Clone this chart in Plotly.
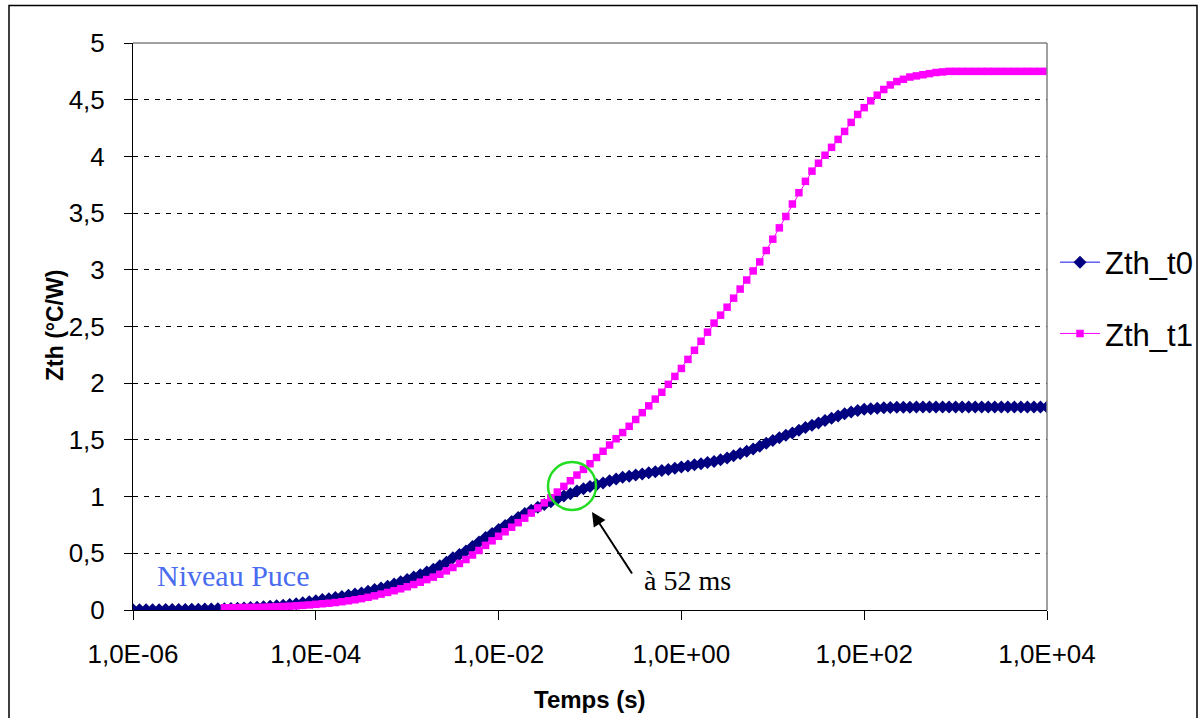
import numpy as np
import plotly.graph_objects as go

# ---- data -------------------------------------------------------------
# time grid: 14 samples per decade from 1e-6 s to 1e4 s (sampling of the simulation)
time_t0 = np.logspace(-6, 4, 141)
time_t1 = time_t0[14:]          # Zth_t1 starts at 1e-5 s

zth_t0 = [
    0.002, 0.002, 0.003, 0.003, 0.003, 0.004, 0.004, 0.005, 0.005, 0.006,
    0.007, 0.008, 0.009, 0.010, 0.011, 0.013, 0.015, 0.018, 0.021, 0.024,
    0.028, 0.032, 0.037, 0.042, 0.048, 0.055, 0.063, 0.072, 0.082, 0.092,
    0.100, 0.110, 0.120, 0.130, 0.140, 0.150, 0.165, 0.180, 0.195, 0.210,
    0.230, 0.250, 0.270, 0.290, 0.310, 0.335, 0.360, 0.390, 0.420, 0.460,
    0.490, 0.520, 0.560, 0.600, 0.640, 0.675, 0.710, 0.745, 0.780, 0.815,
    0.850, 0.880, 0.905, 0.930, 0.955, 0.980, 1.005, 1.025, 1.050, 1.070,
    1.090, 1.105, 1.120, 1.140, 1.155, 1.170, 1.180, 1.190, 1.200, 1.210,
    1.220, 1.230, 1.240, 1.250, 1.260, 1.270, 1.280, 1.290, 1.300, 1.310,
    1.325, 1.340, 1.360, 1.380, 1.400, 1.420, 1.445, 1.470, 1.495, 1.520,
    1.540, 1.560, 1.585, 1.610, 1.630, 1.650, 1.670, 1.690, 1.710, 1.730,
    1.745, 1.760, 1.770, 1.775, 1.780, 1.783, 1.785, 1.787, 1.788, 1.789,
    1.790, 1.790, 1.790, 1.790, 1.790, 1.790, 1.790, 1.790, 1.790, 1.790,
    1.790, 1.790, 1.790, 1.790, 1.790, 1.790, 1.790, 1.790, 1.790, 1.790,
    1.790,
]

zth_t1 = [
    0.020, 0.020, 0.021, 0.022, 0.023, 0.024, 0.025, 0.027, 0.029, 0.031,
    0.034, 0.037, 0.041, 0.045, 0.050, 0.055, 0.060, 0.066, 0.073, 0.081,
    0.090, 0.100, 0.112, 0.125, 0.140, 0.155, 0.170, 0.187, 0.205, 0.225,
    0.245, 0.268, 0.290, 0.315, 0.345, 0.375, 0.410, 0.445, 0.485, 0.525,
    0.570, 0.610, 0.650, 0.690, 0.730, 0.770, 0.810, 0.855, 0.900, 0.945,
    0.990, 1.040, 1.090, 1.140, 1.190, 1.240, 1.290, 1.345, 1.400, 1.455,
    1.510, 1.565, 1.620, 1.680, 1.740, 1.800, 1.860, 1.920, 1.990, 2.060,
    2.130, 2.210, 2.290, 2.370, 2.450, 2.530, 2.600, 2.670, 2.750, 2.830,
    2.910, 2.990, 3.070, 3.170, 3.270, 3.370, 3.470, 3.580, 3.680, 3.780,
    3.870, 3.940, 4.010, 4.080, 4.150, 4.220, 4.300, 4.370, 4.430, 4.490,
    4.540, 4.590, 4.630, 4.660, 4.680, 4.700, 4.710, 4.720, 4.730, 4.740,
    4.745, 4.750, 4.750, 4.750, 4.750, 4.750, 4.750, 4.750, 4.750, 4.750,
    4.750, 4.750, 4.750, 4.750, 4.750, 4.750, 4.750,
]

series_names = ["Zth_t0", "Zth_t1"]
x_tick_vals = [1e-6, 1e-4, 1e-2, 1e0, 1e2, 1e4]
x_tick_text = ["1,0E-06", "1,0E-04", "1,0E-02", "1,0E+00", "1,0E+02", "1,0E+04"]
y_tick_vals = [0, 0.5, 1, 1.5, 2, 2.5, 3, 3.5, 4, 4.5, 5]
y_tick_text = ["0", "0,5", "1", "1,5", "2", "2,5", "3", "3,5", "4", "4,5", "5"]

# ---- figure -----------------------------------------------------------
W, H = 1204, 718
PL, PR, PT, PB = 133, 1047, 43, 610   # plot area in page pixels
L, T, R, B = PL, PT, W - PR, H - PB
pw, ph = PR - PL, PB - PT


def px_x(px):
    return (px - PL) / pw


def px_y(py):
    return (PB - py) / ph


fig = go.Figure()
fig.add_trace(go.Scatter(
    x=time_t0, y=zth_t0, name=series_names[0], mode="lines+markers",
    line=dict(color="#1010E8", width=1),
    marker=dict(symbol="diamond", size=10, color="#000080",
                line=dict(width=0)),
    legendgroup="a",
))
fig.add_trace(go.Scatter(
    x=time_t1, y=zth_t1, name=series_names[1], mode="lines+markers",
    line=dict(color="#FF00FF", width=1),
    marker=dict(symbol="square", size=7.5, color="#FF00FF",
                line=dict(width=0)),
    legendgroup="b",
))

font_sans = "Liberation Sans, Arial, sans-serif"
font_serif = "Liberation Serif, Times New Roman, serif"

fig.update_xaxes(
    type="log", range=[-6, 4], tickvals=x_tick_vals, ticktext=x_tick_text,
    showgrid=False, zeroline=False, showline=True, linecolor="black",
    linewidth=1, ticks="outside", ticklen=9, tickcolor="black",
    tickfont=dict(family=font_sans, size=26, color="black"),
    ticklabelstandoff=12,
)
fig.update_yaxes(
    range=[0, 5], tickvals=y_tick_vals, ticktext=y_tick_text,
    showgrid=True, gridcolor="black", griddash="5px,6px", gridwidth=1,
    zeroline=False, showline=True, linecolor="black", linewidth=1,
    ticks="outside", ticklen=8, tickcolor="black",
    tickfont=dict(family=font_sans, size=26, color="black"),
    ticklabelstandoff=14,
)

shapes = [
    # outer frame
    dict(type="rect", xref="paper", yref="paper",
         x0=px_x(9), x1=px_x(1197), y0=px_y(730), y1=px_y(5.5),
         line=dict(color="black", width=1.5), layer="below"),
    # top and right borders of plot area (grey)
    dict(type="line", xref="paper", yref="paper", x0=0, x1=1, y0=1, y1=1,
         line=dict(color="#808080", width=1.5)),
    dict(type="line", xref="paper", yref="paper", x0=1, x1=1, y0=0, y1=1,
         line=dict(color="#808080", width=1.5)),
    # green circle at the crossing point
    dict(type="circle", xref="paper", yref="paper",
         x0=px_x(548), x1=px_x(596), y0=px_y(510), y1=px_y(462),
         line=dict(color="#22DD22", width=2.5)),
]

annotations = [
    dict(text="<b>Zth (°C/W)</b>", xref="paper", yref="paper",
         x=px_x(55), y=px_y(326), showarrow=False, textangle=-90,
         font=dict(family=font_sans, size=23, color="black"),
         xanchor="center", yanchor="middle"),
    dict(text="<b>Temps (s)</b>", xref="paper", yref="paper",
         x=px_x(590), y=px_y(700), showarrow=False,
         font=dict(family=font_sans, size=24, color="black"),
         xanchor="center", yanchor="middle"),
    dict(text="Niveau Puce", xref="paper", yref="paper",
         x=px_x(155), y=px_y(575), showarrow=False,
         font=dict(family=font_serif, size=30, color="#4A6CF0"),
         xanchor="left", yanchor="middle"),
    dict(text="à 52 ms", xref="paper", yref="paper",
         x=px_x(642), y=px_y(580), showarrow=False,
         font=dict(family=font_serif, size=28, color="black"),
         xanchor="left", yanchor="middle"),
    dict(text="", xref="paper", yref="paper",
         x=px_x(592), y=px_y(512), ax=41, ay=63, axref="pixel", ayref="pixel",
         showarrow=True, arrowhead=2, arrowsize=1.4, arrowwidth=2,
         arrowcolor="black", standoff=0),
]

fig.update_layout(
    width=W, height=H,
    margin=dict(l=L, r=R, t=T, b=B, autoexpand=False),
    paper_bgcolor="white", plot_bgcolor="white",
    showlegend=True,
    legend=dict(
        x=px_x(1055), y=px_y(298), xanchor="left", yanchor="middle",
        font=dict(family=font_sans, size=31, color="black"),
        bgcolor="rgba(0,0,0,0)", borderwidth=0,
        traceorder="grouped", tracegroupgap=28, itemwidth=40,
    ),
    shapes=shapes,
    annotations=annotations,
)

fig.write_html(
    "out.html",
    config={"displayModeBar": False},
    post_script="document.body.style.margin='0';document.body.style.overflow='hidden';",
)
